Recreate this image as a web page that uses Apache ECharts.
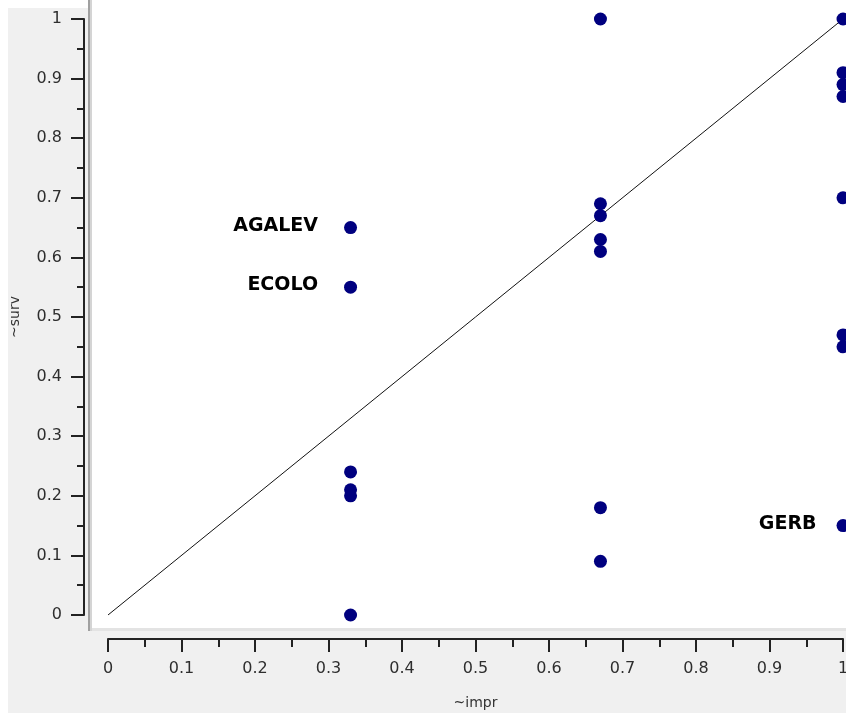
<!DOCTYPE html>
<html>
<head>
<meta charset="utf-8">
<script src="https://cdn.jsdelivr.net/npm/echarts@6/dist/echarts.min.js"></script>
<style>
  html, body { margin: 0; padding: 0; background: #fff; }
  #main { width: 846px; height: 713px; }
</style>
</head>
<body>
<div id="main"></div>
<script>
// data
var xImpr = [0.33, 0.33, 0.33, 0.33, 0.33, 0.33,
             0.67, 0.67, 0.67, 0.67, 0.67, 0.67, 0.67,
             1, 1, 1, 1, 1, 1, 1, 1];
var ySurv = [0.65, 0.55, 0.24, 0.21, 0.20, 0.00,
             1.00, 0.69, 0.67, 0.63, 0.61, 0.18, 0.09,
             1.00, 0.91, 0.89, 0.87, 0.70, 0.47, 0.45, 0.15];
var pointNames = ['AGALEV', 'ECOLO', '', '', '', '',
                  '', '', '', '', '', '', '',
                  '', '', '', '', '', '', '', 'GERB'];
var labelGap = { AGALEV: 26, ECOLO: 26, GERB: 20 };
var diagonal = [[0, 0], [1, 1]];
var xTicks = { min: 0, max: 1, step: 0.1 };
var yTicks = { min: 0, max: 1, step: 0.1 };

var myChart = echarts.init(document.getElementById('main'));

var pts = [];
for (var i = 0; i < xImpr.length; i++) {
    var p = { value: [xImpr[i], ySurv[i]], name: pointNames[i] };
    if (pointNames[i]) {
        p.label = { show: true, distance: labelGap[pointNames[i]] };
    }
    pts.push(p);
}

var tickFont = { fontFamily: 'DejaVu Sans', fontSize: 16, color: '#2e2e2e' };
var nameFont = { fontFamily: 'DejaVu Sans', fontSize: 14, color: '#333' };

var option = {
    backgroundColor: '#ffffff',
    animation: false,
    graphic: [
        { type: 'rect', z: -100, shape: { x: 8, y: 8, width: 838, height: 705 }, style: { fill: '#f0f0f0' } },
        { type: 'rect', z: -99, shape: { x: 92, y: 0, width: 754, height: 628 }, style: { fill: '#ffffff' } },
        { type: 'rect', z: -99, shape: { x: 88, y: 0, width: 2, height: 631 }, style: { fill: '#a0a0a0' } },
        { type: 'rect', z: -99, shape: { x: 90, y: 0, width: 2, height: 631 }, style: { fill: '#d4d4d4' } },
        { type: 'rect', z: -99, shape: { x: 92, y: 628, width: 754, height: 3 }, style: { fill: '#e3e3e3' } }
    ],
    grid: { left: 108, right: 3, top: 19, bottom: 98, containLabel: false, outerBoundsMode: 'none' },
    xAxis: {
        type: 'value',
        min: xTicks.min, max: xTicks.max, interval: xTicks.step,
        offset: 24,
        name: '~impr',
        nameLocation: 'middle',
        nameGap: 57,
        nameTextStyle: nameFont,
        axisLine: { onZero: false, lineStyle: { color: '#222', width: 2 } },
        axisTick: { length: 13, lineStyle: { color: '#222', width: 2 } },
        minorTick: { show: true, splitNumber: 2, length: 8, lineStyle: { color: '#222', width: 2 } },
        axisLabel: Object.assign({ margin: 22 }, tickFont),
        splitLine: { show: false }
    },
    yAxis: {
        type: 'value',
        min: yTicks.min, max: yTicks.max, interval: yTicks.step,
        offset: 24,
        name: '~surv',
        nameLocation: 'middle',
        nameGap: 62,
        nameTextStyle: nameFont,
        axisLine: { onZero: false, lineStyle: { color: '#222', width: 2 } },
        axisTick: { length: 13, lineStyle: { color: '#222', width: 2 } },
        minorTick: { show: true, splitNumber: 2, length: 7, lineStyle: { color: '#222', width: 2 } },
        axisLabel: Object.assign({ margin: 22 }, tickFont),
        splitLine: { show: false }
    },
    series: [
        {
            type: 'line',
            data: diagonal,
            symbol: 'none',
            lineStyle: { color: '#111', width: 1 },
            z: 1
        },
        {
            type: 'scatter',
            data: pts,
            symbolSize: 13,
            itemStyle: { color: '#00007f', opacity: 1 },
            label: {
                show: false,
                position: 'left',
                formatter: '{b}',
                fontFamily: 'DejaVu Sans',
                fontWeight: 'bold',
                fontSize: 19,
                color: '#000',
                offset: [0, -2]
            },
            z: 2
        }
    ]
};

myChart.setOption(option);
</script>
</body>
</html>
